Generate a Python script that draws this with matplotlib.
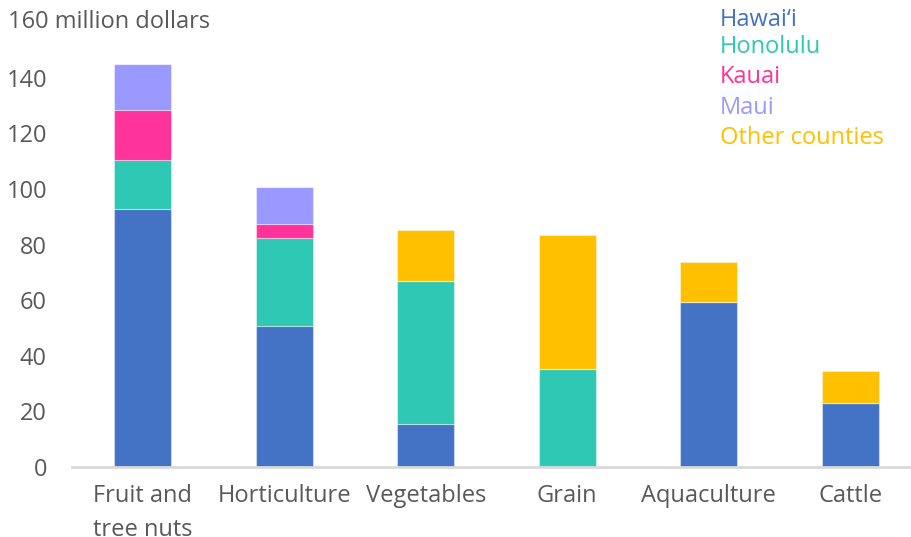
import numpy as np
import matplotlib.pyplot as plt
from matplotlib.transforms import blended_transform_factory

plt.rcParams["font.family"] = ["Open Sans", "DejaVu Sans"]

categories = ["Fruit and\ntree nuts", "Horticulture", "Vegetables", "Grain", "Aquaculture", "Cattle"]
counties = ["Hawai\u2018i", "Honolulu", "Kauai", "Maui", "Other counties"]
colors = ["#4472C4", "#2EC8B4", "#FF3399", "#9999FF", "#FFC000"]

hawaii = [92.9, 50.8, 15.4, 0, 59.5, 22.9]
honolulu = [17.4, 31.7, 51.6, 35.4, 0, 0]
kauai = [18.1, 4.7, 0, 0, 0, 0]
maui = [16.5, 13.5, 0, 0, 0, 0]
other = [0, 0, 18.3, 47.9, 14.2, 11.6]
series = [hawaii, honolulu, kauai, maui, other]

fs = 17
grey = "#595959"

fig = plt.figure(figsize=(9.12, 5.37), dpi=100)
ax = fig.add_axes([72 / 912, 70 / 537, 849 / 912, 445 / 537])

x = np.arange(len(categories))
bottom = np.zeros(len(categories))
for vals, c in zip(series, colors):
    vals = np.array(vals)
    ax.bar(x, vals, width=0.4, bottom=bottom, color=c,
           edgecolor=(1, 1, 1, 0.4), linewidth=0.8)
    bottom += vals

ax.set_xlim(-0.5, 5.5)
ax.set_ylim(0, 160)
ax.set_yticks(range(0, 141, 20))
ax.set_xticks(x)
ax.set_xticklabels(categories, fontsize=fs, color=grey, linespacing=1.55)
ax.tick_params(axis="y", length=0, pad=18, labelsize=fs, labelcolor=grey)
ax.tick_params(axis="x", length=0, pad=12)

for side in ["top", "right", "left"]:
    ax.spines[side].set_visible(False)
ax.spines["bottom"].set_color("#D9D9D9")
ax.spines["bottom"].set_linewidth(2)

# top tick carries the unit
trans = blended_transform_factory(fig.transFigure, ax.transData)
fig.text(8 / 912, 160, "160 million dollars", transform=trans, fontsize=fs,
         color=grey, ha="left", va="center")

# county key, coloured text
key_y = [20, 47, 77, 108, 138]
for name, c, yp in zip(counties, colors, key_y):
    fig.text(720 / 912, 1 - yp / 537, name, color=c, fontsize=fs,
             ha="left", va="center")

fig.savefig("out.png", dpi=100)
